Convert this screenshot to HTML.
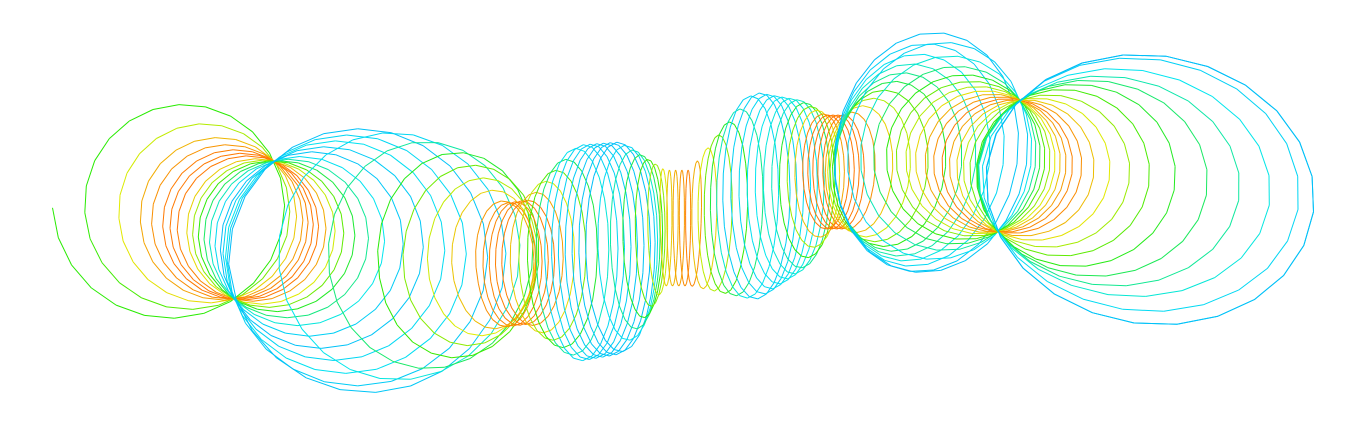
<!DOCTYPE html>
<html><head><meta charset="utf-8"><style>
html,body{margin:0;padding:0;background:#fff;}
svg{display:block;}
</style></head><body>
<svg id="chart" width="1371" height="439" viewBox="0 0 1371 439" xmlns="http://www.w3.org/2000/svg">
<g id="curve"></g>
</svg>
<script>
// knot data: loop index and loop geometry
const loopIdx   = [0,   1,   2,   3,   5,   7,   8,   10,  12,  14,  16,  18,  21,  25,  29,  34,  40,  46,  50,  56,  62,  66,  70,  75,  80,  84,  88,  90,  92,  95,  98,  100, 102];
const centerX   = [254, 254, 254, 254, 254, 254, 254, 254, 254, 254, 254, 254, 400, 505, 530, 580, 620, 665, 690, 755, 800, 825, 845, 935, 1009,1009,1009,1009,1009,1009,1009,1009,1009];
const centerY   = [230, 230, 230, 230, 230, 230, 230, 230, 230, 230, 230, 230, 250, 265, 262, 253, 248, 228, 228, 196, 185, 172, 172, 168, 166, 166, 166, 166, 166, 166, 166, 166, 166];
const halfChord = [72,  72,  72,  72,  72,  72,  72,  72,  72,  72,  72,  72,  68,  62,  62,  108, 106, 58,  58,  104, 85,  57,  57,  64,  67,  67,  67,  67,  67,  67,  67,  67,  67];
const chordAng  = [106, 106, 106, 106, 106, 106, 106, 106, 106, 106, 106, 106, 98,  90,  90,  90,  90,  90,  90,  90,  90,  90,  90,  95,  99.5,99.5,99.5,99.5,99.5,99.5,99.5,99.5,99.5];
const bulge     = [-90, -71, -50, -35, -18, -5,  5,   20,  40,  65,  90,  114, 60,  0,   0,   0,   0,   0,   0,   0,   0,   0,   0,   -40, -80, -45, -15, 0,   20,  60,  110, 143, 143];
const widthV    = [115, 101, 87,  80,  74,  72,  72,  75,  83,  96,  115, 135, 80,  28,  28,  35,  34,  4,   4,   32,  28,  22,  22,  60,  95,  78,  69,  67,  72,  92,  140, 165, 165];
const colorVal  = [0.5, 0.5, 0.75,0.9, 1.0, 1.0, 0.8, 0.5, 0.3, 0.1, 0.25,0.1, 0.5, 0.95,1.0, 0.2, 0.1, 0.8, 1.0, 0.15,0.3, 1.0, 1.0, 0.4, 0.1, 0.5, 0.9, 1.0, 0.8, 0.5, 0.3, 0.15,0.1];

const stopsC = [[0,160,255],[0,230,240],[40,235,0],[225,235,0],[255,120,0]];
function colorAt(v){
  v=Math.max(0,Math.min(1,v))*4; const i=Math.min(3,Math.floor(v)); const f=v-i;
  const a=stopsC[i], b=stopsC[i+1];
  return 'rgb('+a.map((x,j)=>Math.round(x+(b[j]-x)*f)).join(',')+')';
}
function knotAt(arr,k){
  for(let i=0;i<loopIdx.length-1;i++){
    if(k<=loopIdx[i+1]){const f=(k-loopIdx[i])/(loopIdx[i+1]-loopIdx[i]);return arr[i]+(arr[i+1]-arr[i])*f;}
  }
  return arr[arr.length-1];
}
function pointAt(t){
  const k=t/(2*Math.PI);
  const mx=knotAt(centerX,k), my=knotAt(centerY,k), h=knotAt(halfChord,k);
  const ph=knotAt(chordAng,k)*Math.PI/180, d=knotAt(bulge,k);
  let w=knotAt(widthV,k);
  const Ux=Math.cos(ph), Uy=Math.sin(ph), Nx=Uy, Ny=-Ux;
  let r=d/w; if(Math.abs(r)>0.97) r=0.97*Math.sign(r);
  const A=h/Math.sqrt(1-r*r);
  const cx=mx+d*Nx, cy=my+d*Ny;
  const ang=t-Math.PI/2+0.3;
  return [cx+A*Math.cos(ang)*Ux+w*Math.sin(ang)*Nx, cy+A*Math.cos(ang)*Uy+w*Math.sin(ang)*Ny, colorAt(knotAt(colorVal,k))];
}
const g=document.getElementById('curve');
const NS='http://www.w3.org/2000/svg';
const steps=24, totalLoops=loopIdx[loopIdx.length-1];
let prev=pointAt(0);
for(let s=1;s<=totalLoops*steps;s++){
  const p=pointAt(s/steps*2*Math.PI);
  const ln=document.createElementNS(NS,'line');
  ln.setAttribute('x1',prev[0].toFixed(1));ln.setAttribute('y1',prev[1].toFixed(1));
  ln.setAttribute('x2',p[0].toFixed(1));ln.setAttribute('y2',p[1].toFixed(1));
  ln.setAttribute('stroke',p[2]);ln.setAttribute('stroke-width','1');
  
  
  g.appendChild(ln);
  prev=p;
}
</script>
</body></html>
